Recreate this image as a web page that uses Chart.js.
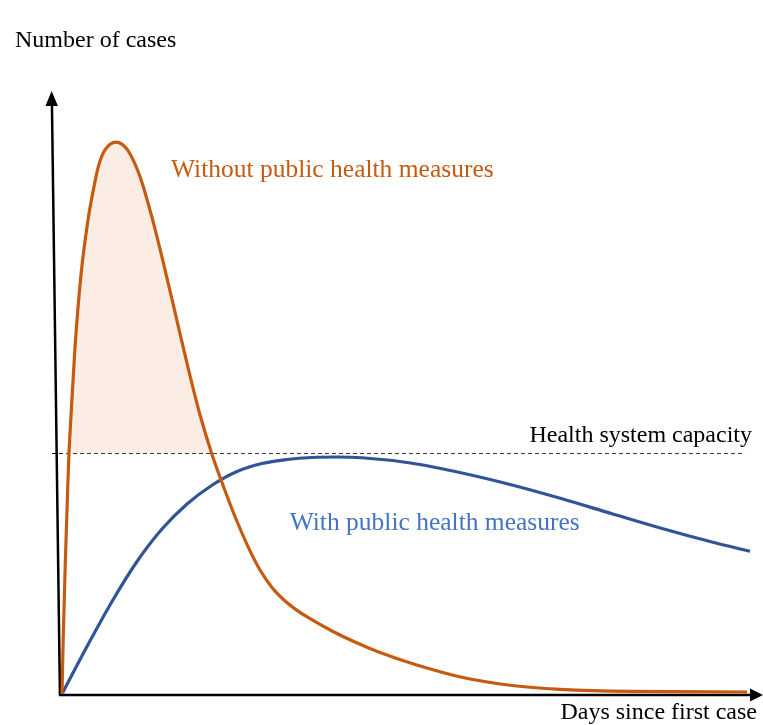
<!DOCTYPE html>
<html>
<head>
<meta charset="utf-8">
<script src="https://cdn.jsdelivr.net/npm/chart.js@4/dist/chart.umd.min.js"></script>
<style>
  html, body { margin: 0; padding: 0; background: #ffffff; }
  #wrap { width: 763px; height: 725px; }
</style>
</head>
<body>
<div id="wrap"><canvas id="c" width="763" height="725"></canvas></div>
<script>
// ---- Data (x: days-since-first-case units 0..100, y: relative number of cases 0..100) ----
const withoutX = [0, 0.17, 0.46, 0.80, 1.01, 1.23, 1.88, 2.75, 3.77, 4.54, 5.29, 6.23,
  7.83, 9.57, 11.30, 13.04, 14.78, 16.52, 18.26, 20.00, 21.74, 23.48, 25.22, 26.96, 28.70, 30.43,
  32.17, 33.91, 35.65, 39.13, 42.61, 46.09, 51.30, 58.26, 65.22, 72.17, 82.61, 99.28];
const withoutY = [0, 8.97, 21.10, 33.22, 40.03, 44.68, 57.48, 69.60, 78.74, 83.72, 87.71, 90.37,
  91.69, 90.27, 85.95, 79.17, 71.20, 62.72, 54.25, 46.38, 39.80, 34.22, 29.07, 24.49, 20.60, 17.71,
  15.61, 14.02, 12.71, 10.47, 8.55, 6.88, 4.85, 2.69, 1.41, 0.78, 0.42, 0.33];

const withX = [0, 3.62, 7.25, 10.87, 14.49, 18.12, 21.74, 25.36, 28.99, 32.61, 36.23, 39.86, 43.48,
  50.72, 57.97, 65.22, 72.46, 79.71, 86.96, 94.20, 99.71];
const withY = [0, 7.89, 15.37, 22.01, 27.41, 31.56, 34.68, 36.96, 38.29, 38.95, 39.29, 39.37, 39.24,
  38.33, 36.71, 34.72, 32.43, 29.94, 27.49, 25.25, 23.71];

const capacityValue = 39.95;
const capacityX = [-1.45, 99.0];

const seriesLabels = ["Without public health measures", "With public health measures", "Health system capacity"];
const yAxisTitle = "Number of cases";
const xAxisTitle = "Days since first case";

// ---- Build ----
const toPts = (xs, ys) => xs.map((x, i) => ({ x: x, y: ys[i] }));

const ORANGE = '#c55a11';
const BLUE = '#2f5597';
const BLUE_TEXT = '#4472c4';
const FILL = '#fbede3';
const FONT = '24px "Liberation Serif", "Times New Roman", serif';
const FONT_L = '25.5px "Liberation Serif", "Times New Roman", serif';

const decor = {
  id: 'decor',
  beforeDatasetsDraw(chart) {
    const ctx = chart.ctx;
    const xs = chart.scales.x, ys = chart.scales.y;
    const x0 = xs.getPixelForValue(-0.3);
    const yb = ys.getPixelForValue(0) + 1;
    ctx.save();
    ctx.strokeStyle = '#000';
    ctx.fillStyle = '#000';
    ctx.lineWidth = 2.5;
    // y axis (slightly tilted like the reference)
    const topX = x0 - 8, topY = 104;
    ctx.beginPath();
    ctx.moveTo(x0, yb);
    ctx.lineTo(topX, topY);
    ctx.stroke();
    ctx.beginPath();
    ctx.moveTo(topX - 0.3, 91);
    ctx.lineTo(topX - 6.5, 106);
    ctx.lineTo(topX + 6, 106);
    ctx.closePath();
    ctx.fill();
    // x axis
    ctx.beginPath();
    ctx.moveTo(x0 - 1, yb);
    ctx.lineTo(752, yb);
    ctx.stroke();
    ctx.beginPath();
    ctx.moveTo(763, yb);
    ctx.lineTo(750, yb - 6.5);
    ctx.lineTo(750, yb + 6.5);
    ctx.closePath();
    ctx.fill();
    ctx.restore();
  },
  afterDraw(chart) {
    const ctx = chart.ctx;
    const xs = chart.scales.x, ys = chart.scales.y;
    ctx.save();
    ctx.font = FONT;
    ctx.textBaseline = 'alphabetic';
    ctx.textAlign = 'left';
    ctx.fillStyle = '#000';
    ctx.fillText(yAxisTitle, 15, 47);
    ctx.textAlign = 'right';
    ctx.fillText(xAxisTitle, 757, 719);
    ctx.fillText(seriesLabels[2], 752, 442);
    ctx.textAlign = 'left';
    ctx.font = FONT_L;
    ctx.fillStyle = ORANGE;
    ctx.fillText(seriesLabels[0], xs.getPixelForValue(15.8), ys.getPixelForValue(85.9));
    ctx.fillStyle = BLUE_TEXT;
    ctx.fillText(seriesLabels[1], xs.getPixelForValue(33.0), ys.getPixelForValue(27.2));
    ctx.restore();
  }
};

new Chart(document.getElementById('c'), {
  type: 'line',
  data: {
    datasets: [
      {
        label: seriesLabels[2],
        data: toPts(capacityX, capacityX.map(() => capacityValue)),
        borderColor: '#000',
        borderWidth: 1,
        borderDash: [4, 3],
        pointRadius: 0,
        fill: false,
        order: 3
      },
      {
        label: seriesLabels[1],
        data: toPts(withX, withY),
        borderColor: BLUE,
        borderWidth: 3.2,
        pointRadius: 0,
        cubicInterpolationMode: 'monotone',
        fill: false,
        order: 2
      },
      {
        label: seriesLabels[0],
        data: toPts(withoutX, withoutY),
        borderColor: ORANGE,
        borderWidth: 3.2,
        pointRadius: 0,
        cubicInterpolationMode: 'monotone',
        fill: { target: { value: capacityValue }, above: FILL, below: 'rgba(0,0,0,0)' },
        order: 1
      }
    ]
  },
  options: {
    responsive: false,
    animation: false,
    devicePixelRatio: 1,
    layout: { padding: { left: 48.2, right: 11, top: 92, bottom: 31 } },
    scales: {
      x: { type: 'linear', min: -2, max: 100, display: false },
      y: { type: 'linear', min: 0, max: 100, display: false }
    },
    plugins: {
      legend: { display: false },
      tooltip: { enabled: false },
      filler: { propagate: false }
    }
  },
  plugins: [decor]
});
</script>
</body>
</html>
